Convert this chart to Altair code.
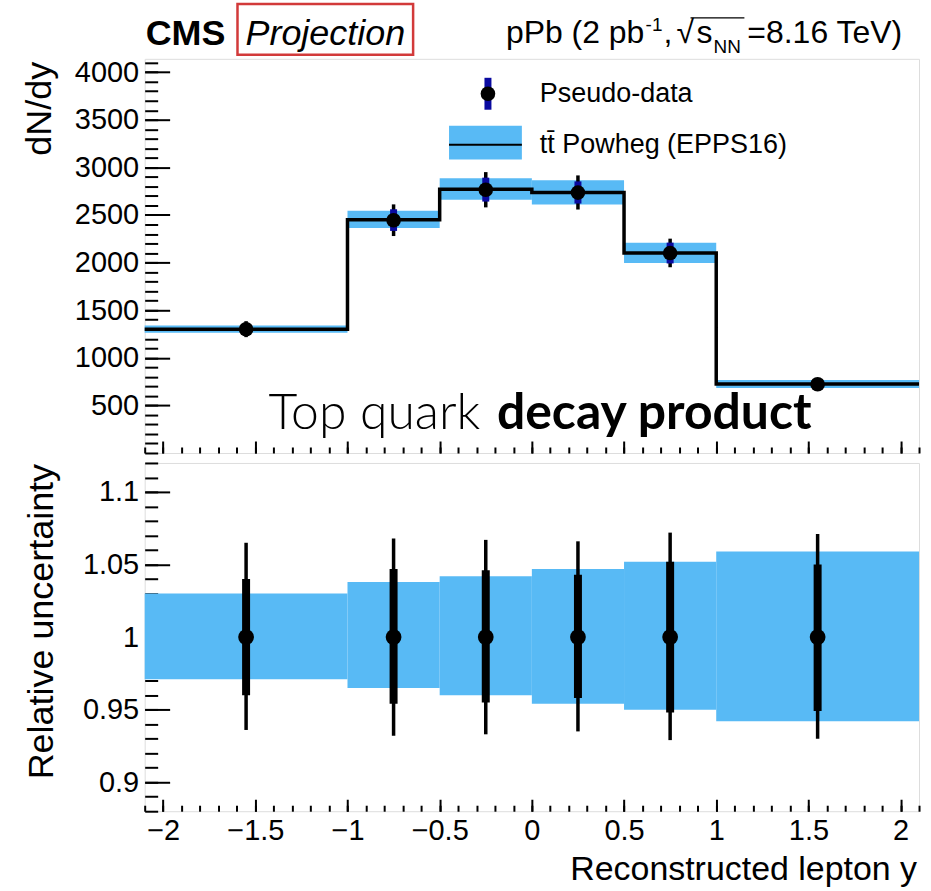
import altair as alt
import pandas as pd

# ---------------- data ----------------
bin_lo = [-2.1, -1.0, -0.5, 0.0, 0.5, 1.0]
bin_hi = [-1.0, -0.5, 0.0, 0.5, 1.0, 2.1]
y_center = [-1.55, -0.75, -0.25, 0.25, 0.75, 1.55]
model = [1300, 2450, 2770, 2735, 2100, 725]          # ttbar Powheg (EPPS16)
pseudo = [1300, 2445, 2765, 2735, 2100, 722]         # pseudo-data
band_up = [1.030, 1.038, 1.042, 1.047, 1.052, 1.059]  # model relative uncertainty
band_dn = [0.971, 0.965, 0.960, 0.954, 0.950, 0.942]
tot_up = [1.065, 1.068, 1.067, 1.066, 1.072, 1.071]   # total uncertainty (thin bars)
tot_dn = [0.936, 0.932, 0.933, 0.935, 0.929, 0.930]
stat_up = [1.040, 1.047, 1.046, 1.043, 1.052, 1.050]  # inner uncertainty (thick bars)
stat_dn = [0.960, 0.954, 0.955, 0.958, 0.948, 0.949]

x_major = [-2, -1.5, -1, -0.5, 0, 0.5, 1, 1.5, 2]
x_minor = [round(-2.1 + 0.1 * i, 2) for i in range(43)]
ytop_major = [500, 1000, 1500, 2000, 2500, 3000, 3500, 4000]
ytop_minor = list(range(0, 4200, 100))
ybot_major = [0.9, 0.95, 1.0, 1.05, 1.1]
ybot_minor = [round(0.88 + 0.01 * i, 2) for i in range(25)]

BAND = "#58baf5"
FONT = "Liberation Sans"
W, HT, HB = 776, 395, 349

df = pd.DataFrame({
    "lo": bin_lo, "hi": bin_hi, "c": y_center,
    "model": model, "pseudo": pseudo,
    "bup": band_up, "bdn": band_dn,
    "tup": tot_up, "tdn": tot_dn, "sup": stat_up, "sdn": stat_dn,
})
df["b_top_lo"] = df["model"] * df["bdn"]
df["b_top_hi"] = df["model"] * df["bup"]
df["e_top_lo"] = df["pseudo"] * df["tdn"]
df["e_top_hi"] = df["pseudo"] * df["tup"]
df["s_top_lo"] = df["pseudo"] * df["sdn"]
df["s_top_hi"] = df["pseudo"] * df["sup"]
df["one"] = 1.0

step_df = pd.DataFrame({"edge": bin_lo + [bin_hi[-1]], "val": model + [model[-1]]})

xs = alt.Scale(domain=[-2.1, 2.1], nice=False, zero=False)
ys_top = alt.Scale(domain=[0, 4140], nice=False, zero=False)
ys_bot = alt.Scale(domain=[0.88, 1.12], nice=False, zero=False)


def ax(orient, values, size, labels=False, fmt=None, pad=6):
    kw = dict(orient=orient, values=values, offset=-size, tickSize=size, domain=False,
              grid=False, tickColor="black", tickWidth=2, title=None, labels=labels)
    if labels:
        kw.update(format=fmt, labelFontSize=29, labelFont=FONT, labelColor="black",
                  labelPadding=pad, labelOverlap=False, labelFlush=False, labelBound=False)
    return alt.Axis(**kw)


def txt(s, x, y, size, **kw):
    return alt.Chart(pd.DataFrame({"t": [s]})).mark_text(
        fontSize=size, font=kw.pop("font", FONT), color=kw.pop("color", "black"),
        align=kw.pop("align", "left"), baseline=kw.pop("baseline", "alphabetic"), **kw
    ).encode(x=alt.value(x), y=alt.value(y), text="t:N")


# ---------------- top panel ----------------
t_band = alt.Chart(df).mark_rect(color=BAND).encode(
    x=alt.X("lo:Q", scale=xs, axis=ax("bottom", x_major, 12)),
    x2="hi:Q",
    y=alt.Y("b_top_lo:Q", scale=ys_top, axis=ax("left", ytop_major, 25, True, "d", 6)),
    y2="b_top_hi:Q",
)
t_line = alt.Chart(step_df).mark_line(interpolate="step-after", color="black", strokeWidth=3.5).encode(
    x=alt.X("edge:Q", scale=xs, axis=ax("bottom", x_minor, 6)),
    y=alt.Y("val:Q", scale=ys_top, axis=ax("left", ytop_minor, 13)),
)
t_err = alt.Chart(df).mark_rule(color="black", strokeWidth=3.5).encode(
    x=alt.X("c:Q", scale=xs, axis=None),
    y=alt.Y("e_top_lo:Q", scale=ys_top, axis=None), y2="e_top_hi:Q")
t_stat = alt.Chart(df).mark_rule(color="#0a0aa0", strokeWidth=7).encode(
    x=alt.X("c:Q", scale=xs, axis=None),
    y=alt.Y("s_top_lo:Q", scale=ys_top, axis=None), y2="s_top_hi:Q")
t_pts = alt.Chart(df).mark_circle(color="black", size=215, opacity=1).encode(
    x=alt.X("c:Q", scale=xs, axis=None),
    y=alt.Y("pseudo:Q", scale=ys_top, axis=None))

# legend
leg_bar = alt.Chart(pd.DataFrame({"a": [0]})).mark_rule(color="#0a0aa0", strokeWidth=7).encode(
    x=alt.value(344), y=alt.value(19), y2=alt.value(51))
leg_pt = alt.Chart(pd.DataFrame({"a": [0]})).mark_circle(color="black", size=215, opacity=1).encode(
    x=alt.value(344), y=alt.value(35))
leg_band = alt.Chart(pd.DataFrame({"a": [0]})).mark_rect(color=BAND).encode(
    x=alt.value(305), x2=alt.value(378), y=alt.value(67), y2=alt.value(101))
leg_line = alt.Chart(pd.DataFrame({"a": [0]})).mark_rule(color="black", strokeWidth=2).encode(
    x=alt.value(305), x2=alt.value(378), y=alt.value(86))

# header / annotation
red_box = alt.Chart(pd.DataFrame({"a": [0]})).mark_rect(
    fill=None, fillOpacity=0, stroke="#d23a3a", strokeWidth=2.5).encode(
    x=alt.value(93), x2=alt.value(269), y=alt.value(-55), y2=alt.value(-4))
sqrt_bar = alt.Chart(pd.DataFrame({"a": [0]})).mark_rule(color="black", strokeWidth=1.2).encode(
    x=alt.value(547), x2=alt.value(601), y=alt.value(-41))
anchor_tl = alt.Chart(pd.DataFrame({"a": [0]})).mark_rule(opacity=0, strokeWidth=0.01).encode(
    x=alt.value(-144), x2=alt.value(-140), y=alt.value(-57))

top_texts = [
    txt("CMS", 1, -14, 36, fontWeight="bold"),
    txt("Projection", 101, -14, 36, fontStyle="italic"),
    txt("pPb (2 pb", 362, -16, 32),
    txt("-1", 502, -28, 19),
    txt(",", 520, -16, 32),
    txt("√", 533, -16, 32),
    txt("s", 553, -16, 32),
    txt("NN", 570, -6, 19),
    txt("=8.16 TeV)", 759, -16, 32, align="right"),
    txt("Pseudo-data", 396, 35, 27, baseline="middle"),
    txt("tt\u0304 Powheg (EPPS16)", 396, 86, 27, baseline="middle"),
    txt("Top quark", 124, 371, 50, font="Lato", fontWeight=300),
    txt("decay product", 353, 371, 50, font="Lato", fontWeight="bold"),
    txt("dN/dy", -94, 3, 36, align="right", angle=270),
]

top = alt.layer(
    t_band, t_line, t_err, t_stat, t_pts,
    leg_band, leg_line, leg_bar, leg_pt, red_box, sqrt_bar, anchor_tl, *top_texts
).resolve_axis(x="independent", y="independent").properties(width=W, height=HT)

# ---------------- bottom panel ----------------
b_band = alt.Chart(df).mark_rect(color=BAND).encode(
    x=alt.X("lo:Q", scale=xs, axis=ax("bottom", x_major, 12, True, "~g", 5)),
    x2="hi:Q",
    y=alt.Y("bdn:Q", scale=ys_bot, axis=ax("left", ybot_major, 25, True, "~g", 6)),
    y2="bup:Q",
)
b_minor = alt.Chart(df).mark_rule(color="black", strokeWidth=3.5).encode(
    x=alt.X("c:Q", scale=xs, axis=ax("bottom", x_minor, 6)),
    y=alt.Y("tdn:Q", scale=ys_bot, axis=ax("left", ybot_minor, 13)),
    y2="tup:Q",
)
b_stat = alt.Chart(df).mark_rule(color="black", strokeWidth=8).encode(
    x=alt.X("c:Q", scale=xs, axis=None),
    y=alt.Y("sdn:Q", scale=ys_bot, axis=None), y2="sup:Q")
b_pts = alt.Chart(df).mark_circle(color="black", size=250, opacity=1).encode(
    x=alt.X("c:Q", scale=xs, axis=None),
    y=alt.Y("one:Q", scale=ys_bot, axis=None))
anchor_br = alt.Chart(pd.DataFrame({"a": [0]})).mark_rule(opacity=0, strokeWidth=0.01).encode(
    x=alt.value(783), x2=alt.value(787), y=alt.value(429))

bot_texts = [
    txt("Relative uncertainty", -92, 1, 36, align="right", angle=270),
    txt("Reconstructed lepton y", 774, 418, 34, align="right"),
]

bottom = alt.layer(
    b_band, b_minor, b_stat, b_pts, anchor_br, *bot_texts
).resolve_axis(x="independent", y="independent").properties(width=W, height=HB)

chart = alt.vconcat(top, bottom, spacing=10, bounds="flush").properties(
    padding=0, background="white"
).configure_view(stroke="black", strokeWidth=2).configure(font=FONT)

chart.save("out.html", embed_options={"renderer": "svg", "actions": False})
